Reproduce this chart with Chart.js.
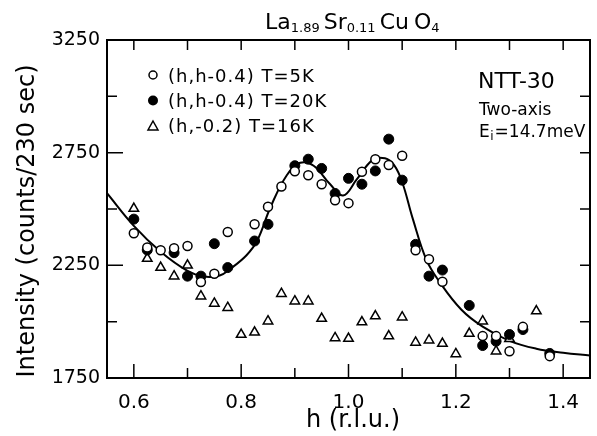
<!DOCTYPE html>
<html><head><meta charset="utf-8">
<script src="https://cdn.jsdelivr.net/npm/chart.js@4.4.1/dist/chart.umd.min.js"></script>
<style>html,body{margin:0;padding:0;background:#fff;}canvas{display:block;}</style>
</head><body>
<canvas id="c" width="597" height="436"></canvas>
<script>
// ---- data ----
const openH = [0.600,0.625,0.650,0.675,0.700,0.725,0.750,0.775,0.825,0.850,0.875,0.900,0.925,0.950,0.975,1.000,1.025,1.050,1.075,1.100,1.125,1.150,1.175,1.250,1.275,1.300,1.325,1.375];
const openI = [2392,2329,2317,2326,2336,2176,2213,2398,2432,2510,2600,2667,2650,2610,2539,2526,2665,2721,2695,2736,2317,2277,2177,1936,1936,1869,1977,1847];

const filledH = [0.600,0.625,0.675,0.700,0.725,0.750,0.775,0.825,0.850,0.900,0.925,0.950,0.975,1.000,1.025,1.050,1.075,1.100,1.125,1.150,1.175,1.225,1.250,1.275,1.300,1.325,1.375];
const filledI = [2455,2318,2306,2202,2202,2346,2240,2358,2432,2692,2721,2680,2569,2636,2610,2669,2810,2628,2343,2202,2229,2072,1894,1913,1943,1965,1859];

const triH = [0.600,0.625,0.650,0.675,0.700,0.725,0.750,0.775,0.800,0.825,0.850,0.875,0.900,0.925,0.950,0.975,1.000,1.025,1.050,1.075,1.100,1.125,1.150,1.175,1.200,1.225,1.250,1.275,1.300,1.350];
const triI = [2502,2280,2240,2202,2250,2113,2081,2062,1943,1953,2002,2124,2091,2091,2014,1928,1925,1998,2025,1936,2020,1908,1918,1903,1857,1947,2002,1869,1924,2047];

const fitH = [0.55,0.60,0.65,0.70,0.73,0.76,0.78,0.81,0.83,0.855,0.885,0.91,0.935,0.965,0.99,1.015,1.045,1.068,1.085,1.10,1.12,1.145,1.17,1.21,1.25,1.30,1.35,1.40,1.45];
const fitI = [2570,2425,2310,2225,2200,2205,2235,2295,2360,2510,2650,2705,2692,2612,2560,2630,2718,2725,2695,2620,2455,2275,2175,2054,1978,1915,1880,1862,1850];

const xTicks = [0.6,0.7,0.8,0.9,1.0,1.1,1.2,1.3,1.4];
const xTickLabels = ['0.6','','0.8','','1.0','','1.2','','1.4'];
const yTicks = [1750,2000,2250,2500,2750,3000,3250];
const yTickLabels = ['1750','','2250','','2750','','3250'];

const legendLabels = ['(h,h-0.4) T=5K','(h,h-0.4) T=20K','(h,-0.2) T=16K'];
const infoLines = ['NTT-30','Two-axis'];
const titleParts = [['La',0],['1.89',1],['Sr',0],['0.11',1],['Cu',0],['O',0],['4',1]];
const xTitle = 'h (r.l.u.)';
const yTitle = 'Intensity (counts/230 sec)';

// ---- chart ----
const FONT = "'DejaVu Sans', 'Liberation Sans', sans-serif";
const pts = (xs, ys) => xs.map((x, i) => ({x: x, y: ys[i]}));

const decor = {
  id: 'decor',
  afterDraw(chart) {
    const ctx = chart.ctx, a = chart.chartArea;
    const xs = chart.scales.x, ys = chart.scales.y;
    ctx.save();
    ctx.strokeStyle = '#000';
    ctx.fillStyle = '#000';
    // frame
    ctx.lineWidth = 2;
    ctx.strokeRect(a.left, a.top, a.right - a.left, a.bottom - a.top);
    // inward ticks
    ctx.lineWidth = 1.5;
    ctx.beginPath();
    xTicks.forEach((v, i) => {
      const px = xs.getPixelForValue(v);
      const L = xTickLabels[i] ? 14 : 10;
      ctx.moveTo(px, a.bottom); ctx.lineTo(px, a.bottom - L);
      ctx.moveTo(px, a.top); ctx.lineTo(px, a.top + 10);
    });
    yTicks.forEach((v, i) => {
      const py = ys.getPixelForValue(v);
      const L = yTickLabels[i] ? 16 : 10;
      ctx.moveTo(a.left, py); ctx.lineTo(a.left + L, py);
      ctx.moveTo(a.right, py); ctx.lineTo(a.right - 10, py);
    });
    ctx.stroke();

    // title with subscripts
    let x = 265;
    titleParts.forEach((p, i) => {
      const sub = p[1] === 1;
      ctx.font = (sub ? 13 : 22) + 'px ' + FONT;
      ctx.textBaseline = 'alphabetic';
      ctx.textAlign = 'left';
      ctx.fillText(p[0], x, sub ? 31.5 : 28.5);
      x += ctx.measureText(p[0]).width + (sub ? 4 : (p[0] === 'Cu' ? 5 : 0));
    });

    // legend
    const ly = [75, 100.5, 126];
    const lb = [82, 107, 132];
    ctx.lineWidth = 1.5;
    ctx.beginPath(); ctx.arc(153, ly[0], 4, 0, Math.PI * 2); ctx.stroke();
    ctx.beginPath(); ctx.arc(153, ly[1], 5, 0, Math.PI * 2); ctx.fill();
    ctx.beginPath();
    ctx.moveTo(153, ly[2] - 5); ctx.lineTo(158, ly[2] + 4); ctx.lineTo(148, ly[2] + 4); ctx.closePath(); ctx.stroke();
    ctx.font = '18px ' + FONT;
    ctx.letterSpacing = '1px';
    legendLabels.forEach((t, i) => ctx.fillText(t, 168, lb[i]));

    // info block
    ctx.letterSpacing = '0px';
    ctx.font = '22px ' + FONT;
    ctx.fillText(infoLines[0], 478, 88);
    ctx.font = '17px ' + FONT;
    ctx.fillText(infoLines[1], 479, 115);
    ctx.fillText('E', 479, 137);
    let ex = 479 + ctx.measureText('E').width;
    ctx.font = '12px ' + FONT;
    ctx.fillText('i', ex + 0.5, 140);
    ex += ctx.measureText('i').width + 1.5;
    ctx.font = '17px ' + FONT;
    ctx.fillText('=14.7meV', ex, 137);

    // axis titles
    ctx.font = '24px ' + FONT;
    ctx.textAlign = 'center';
    ctx.textBaseline = 'middle';
    ctx.fillText(xTitle, 353, 421);
    ctx.translate(28, 221);
    ctx.rotate(-Math.PI / 2);
    ctx.fillText(yTitle, 0, 0);
    ctx.restore();
  }
};

new Chart(document.getElementById('c'), {
  type: 'scatter',
  data: {
    datasets: [
      { label: 'fit', type: 'line', data: pts(fitH, fitI), borderColor: '#000', borderWidth: 2,
        pointRadius: 0, tension: 0.4, fill: false, order: 3 },
      { label: legendLabels[2], data: pts(triH, triI), pointStyle: 'triangle', pointRadius: 5.5,
        borderColor: '#000', backgroundColor: '#fff', borderWidth: 1.5, order: 2 },
      { label: legendLabels[1], data: pts(filledH, filledI), pointStyle: 'circle', pointRadius: 5,
        borderColor: '#000', backgroundColor: '#000', borderWidth: 1, order: 1 },
      { label: legendLabels[0], data: pts(openH, openI), pointStyle: 'circle', pointRadius: 4.5,
        borderColor: '#000', backgroundColor: '#fff', borderWidth: 1.5, order: 0 }
    ]
  },
  options: {
    responsive: false,
    animation: false,
    devicePixelRatio: 1,
    layout: { padding: { left: 0, top: 40, right: 2, bottom: 0 } },
    plugins: { legend: { display: false }, tooltip: { enabled: false }, title: { display: false } },
    scales: {
      x: {
        type: 'linear', min: 0.55, max: 1.45,
        afterBuildTicks: s => { s.ticks = xTicks.map(v => ({value: v})); },
        afterFit: s => { s.height = 58; },
        grid: { display: false, drawTicks: false },
        border: { display: false },
        ticks: {
          padding: 13, color: '#000', font: { family: FONT, size: 20 },
          callback: (v) => { const i = xTicks.findIndex(t => Math.abs(t - v) < 1e-6); return i >= 0 ? xTickLabels[i] : ''; }
        }
      },
      y: {
        type: 'linear', min: 1750, max: 3250,
        afterBuildTicks: s => { s.ticks = yTicks.map(v => ({value: v})); },
        afterFit: s => { s.width = 107; },
        grid: { display: false, drawTicks: false },
        border: { display: false },
        ticks: {
          padding: 7, color: '#000', font: { family: FONT, size: 19 },
          callback: (v) => { const i = yTicks.indexOf(v); return i >= 0 ? yTickLabels[i] : ''; }
        }
      }
    }
  },
  plugins: [decor]
});
</script>
</body></html>
